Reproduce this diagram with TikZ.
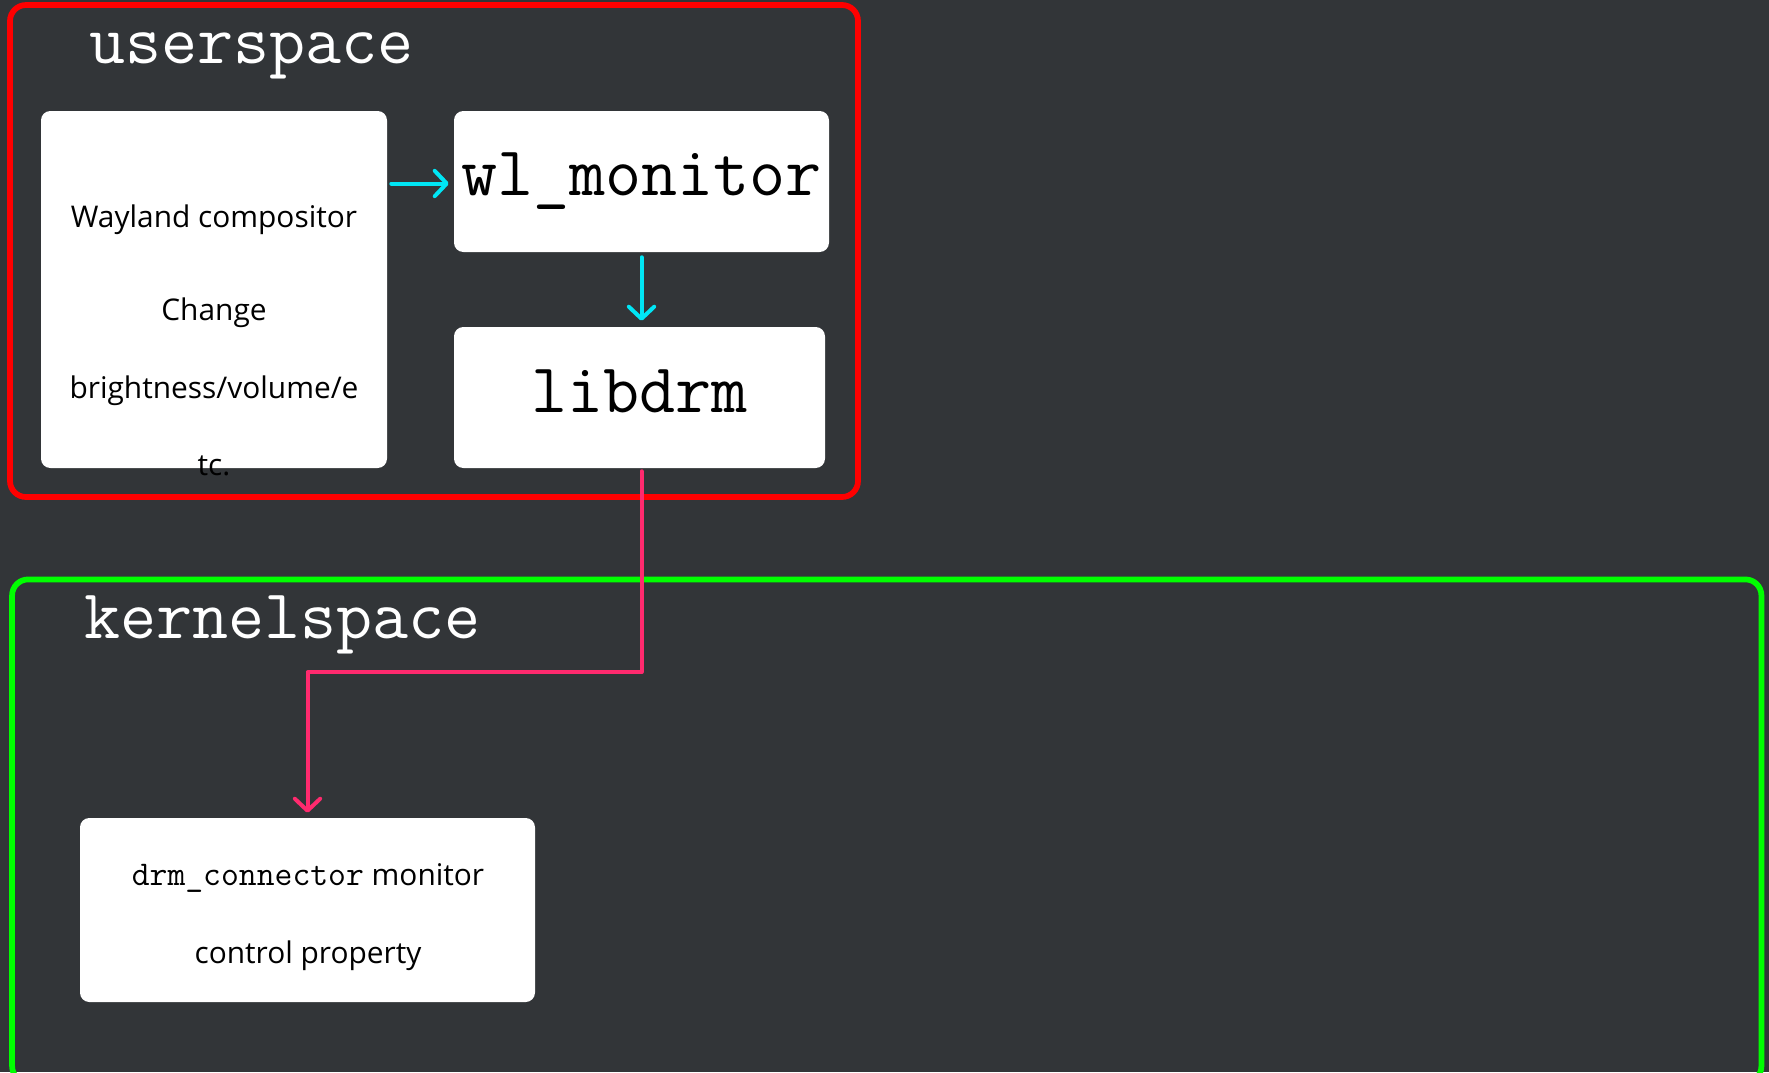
\documentclass[tikz,border=0pt]{standalone}
\usepackage{fontspec}
\setmainfont{Open Sans}
\usetikzlibrary{arrows.meta,calc}
\definecolor{bg}{RGB}{50,53,56}
\definecolor{frred}{RGB}{255,0,0}
\definecolor{frgreen}{RGB}{0,255,0}
\definecolor{flowcyan}{RGB}{0,230,245}
\definecolor{flowpink}{RGB}{255,42,110}
\begin{document}
\begin{tikzpicture}[x=0.75pt,y=-0.75pt,
 frame/.style={draw, line width=4.3pt, rounded corners=12pt, inner sep=0pt},
 card/.style={fill=white, rounded corners=7pt, inner sep=0pt, text=black},
 bigmono/.style={font=\ttfamily\fontsize{52.5}{62}\selectfont},
 spacelbl/.style={bigmono, text=white, anchor=base west, inner sep=0pt},
 sanslabel/.style={font=\fontsize{22.4}{26}\selectfont, text=black, inner sep=0pt, anchor=base},
 flow/.style={line width=3pt, line cap=round, line join=round,
   -{Straight Barb[length=9pt,width=19pt,line cap=round,line join=round]}},
]
\fill[bg] (0,0) rectangle (1769,1072);
\useasboundingbox (0,0) rectangle (1769,1072);

% frames
\node[frame, draw=frred, minimum width=636pt, minimum height=369pt] (user) at (434,251) {};
\node[frame, draw=frgreen, minimum width=1312pt, minimum height=377pt] (kernel) at (886.75,830.75) {};

% frame labels
\node[spacelbl] (userlbl) at (89,63) {userspace};
\node[spacelbl] (kernlbl) at (84,638) {kernelspace};

% cards
\node[card, minimum width=259.5pt, minimum height=267.75pt] (wayland) at (214,289.5) {};
\node[card, bigmono, minimum width=281.25pt, minimum height=105.75pt, text height=20.25pt, text depth=0pt] (wlmon) at (641.5,181.5) {wl\_monitor};
\node[card, bigmono, minimum width=278.25pt, minimum height=105.75pt, text height=21.75pt, text depth=0pt] (libdrm) at (639.5,397.5) {libdrm};
\node[card, minimum width=341.25pt, minimum height=138pt] (drmconn) at (307.5,910) {};

% card texts
\node[sanslabel] (wt1) at (214,227) {Wayland compositor};
\node[sanslabel] (wt2) at (214,320) {Change};
\node[sanslabel] (wt3) at (214,398) {brightness/volume/e};
\node[sanslabel] (wt4) at (214,475) {tc.};
\node[sanslabel] (dt1) at (308,885) {{\ttfamily\fontsize{26}{30}\selectfont drm\_connector} monitor};
\node[sanslabel] (dt2) at (308,963) {control property};

% connectors
\draw[flow, flowcyan] ($(wayland.east |- wlmon.west)+(4,2)$) -- ($(wlmon.west)+(-5,2)$);
\draw[flow, flowcyan] ($(wlmon.south)+(0,5)$) -- ($(wlmon.south |- libdrm.north)+(0,-6)$);
\draw[flow, flowpink] ($(wlmon.south |- libdrm.south)+(0,3)$) -- ++(0,201) -| ($(drmconn.north)+(0,-5)$);
\end{tikzpicture}
\end{document}
